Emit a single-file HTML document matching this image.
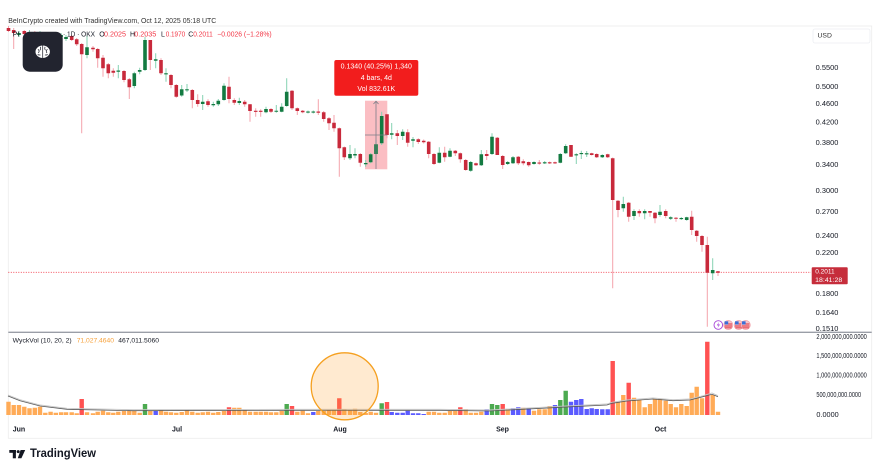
<!DOCTYPE html>
<html><head><meta charset="utf-8"><style>
html,body{margin:0;padding:0;background:#fff;}
svg{display:block;font-family:"Liberation Sans",sans-serif;}
</style></head><body>
<svg width="877" height="473" viewBox="0 0 877 473" xmlns="http://www.w3.org/2000/svg">
<rect width="877" height="473" fill="#fff"/>
<text x="8.3" y="20.6" font-size="7.5" fill="#333" dominant-baseline="central" textLength="208" lengthAdjust="spacingAndGlyphs">BeInCrypto created with TradingView.com, Oct 12, 2025 05:18 UTC</text>
<rect x="8.3" y="26" width="863.4" height="412.3" fill="none" stroke="#ececec" stroke-width="0.8"/>

<line x1="8.3" y1="272.3" x2="811" y2="272.3" stroke="#f23645" stroke-width="0.8" stroke-dasharray="1,1.5"/>

<rect x="365" y="100.7" width="22.3" height="68.6" fill="rgba(242,54,69,0.32)"/>

<path fill="none" stroke="#f4a3ac" stroke-width="1" d="M8.5 26V32M13.7 28V49M24.3 30V36M34.8 31V38M45.3 32V39M55.8 33V39M71.7 35V41M76.7 38V46M81.7 43V133.3M93 46V51.7M97.7 48V67.7M103 55V76.7M108.3 63V78.3M113.3 68.3V76.7M124 70V82.3M129.3 78V99M150.3 40V70M161 58.3V75M171 74V88.3M176.3 84V97.7M192.3 89V108.3M197.7 94.3V106.7M208 99.3V106.7M229 76.7V103.3M234.3 98.3V105M244.7 100V106.7M250 104V121.7M255.7 108.3V116.7M260.7 109.3V116.7M271 108V113M292 90V110M297.3 107.5V115M302.7 110V113.3M318.3 99.3V115M323.7 111V121.7M329 117V130M334 115V131.7M339.3 127.5V176.7M344.3 146.5V160M360.3 153V166.7M387 114.3V138.3M397.3 130V145M407.7 129.3V146.7M418.3 138.3V144M423.7 139.5V143.5M428.7 141V158.3M434 153V165M444.7 146.7V161.7M455.3 150V156M460.3 152.5V162.7M465.7 159V170.7M476 162.5V166M486.7 150V160M497.3 137V155M502.7 155V169M518.3 156V165M523.3 159.3V165.3M528.7 161.5V166.7M539.3 160V164.7M549.7 161.5V164M555 161.5V164M571 145V157M591.7 152.7V155.5M596.7 153.3V158M607.7 153.7V158M612.7 157.5V288.3M618 200V217.3M628.7 202V221.7M639.3 209.3V216.7M650 211V216.7M655 212V223.3M665.7 209.3V218.3M676 217V221.7M691.7 210.7V235M696.7 230V241.7M702 235V251.7M707.3 236.7V326.7M718 271V276"/>
<path fill="none" stroke="#86d2b2" stroke-width="1" d="M19 31V37M29.5 30V37M40 31V37M50.6 32V38M61.1 33V39M66 35V41M87 35.7V58.3M118.3 65V78.3M134.3 71.7V88.3M139.7 67.7V74.3M145 36.7V71M155.7 53.3V68.3M166 68.3V81.7M181.7 85V96.7M187 84V92M202.7 95V110M213.3 101.7V106.7M218.3 99V106M224 83.3V100.7M239.3 97.7V105M266 106.7V113.3M276.3 105V112.7M281.7 103.3V112.3M286.7 78.3V106.7M308 110.5V113.5M313.3 110.5V113.5M350 145V160M355 148.3V158.3M365.7 160V166.7M370.7 153V163.3M376 140V155M381.7 111.7V145M391.7 123V139.3M402.7 129.3V140M413 137V147.3M439.3 147.3V163.3M450 148.3V157.3M470.7 161V171.7M481.3 150V166M492 133.3V155M507.7 161V165M513 156V164M534 161.3V164.7M544.7 161V164M560.3 153V163.3M565.7 144.3V154M576.3 153.3V164M581.3 150.7V159M586.7 151V157M602.3 154.3V158M623.3 196.7V211.7M634 209.3V220M644.7 209.3V219.3M660 205V216.7M670.7 216.3V220M681.3 217V220M686.7 216.7V220.7M712.7 258.3V280"/>
<path fill="#c8293b" d="M6.7 28h3.6V31h-3.6zM11.9 30h3.6V33h-3.6zM22.5 31h3.6V34h-3.6zM33 33h3.6V36h-3.6zM43.5 34h3.6V37h-3.6zM54 35h3.6V37h-3.6zM69.9 36h3.6V40h-3.6zM74.9 39.3h3.6V44.3h-3.6zM79.9 44h3.6V54.3h-3.6zM91.2 47.7h3.6V49.3h-3.6zM95.9 49h3.6V58.3h-3.6zM101.2 57.7h3.6V68.3h-3.6zM106.5 64.3h3.6V73.3h-3.6zM111.5 70.7h3.6V72.7h-3.6zM122.2 71h3.6V80h-3.6zM127.5 79.3h3.6V87.3h-3.6zM148.5 40h3.6V60h-3.6zM159.2 60h3.6V73.3h-3.6zM169.2 75h3.6V85h-3.6zM174.5 85h3.6V96.7h-3.6zM190.5 90h3.6V100h-3.6zM195.9 100h3.6V104h-3.6zM206.2 101.3h3.6V105h-3.6zM227.2 86.7h3.6V99h-3.6zM232.5 100h3.6V102.7h-3.6zM242.9 101.7h3.6V104.3h-3.6zM248.2 104.3h3.6V111h-3.6zM253.9 110.7h3.6V111.9h-3.6zM258.9 110.7h3.6V111.9h-3.6zM269.2 109h3.6V111.7h-3.6zM290.2 90.7h3.6V108.3h-3.6zM295.5 108.3h3.6V111h-3.6zM300.9 110.7h3.6V112.3h-3.6zM316.5 111.5h3.6V112.7h-3.6zM321.9 112.3h3.6V119h-3.6zM327.2 118.3h3.6V123.3h-3.6zM332.2 122.7h3.6V128.3h-3.6zM337.5 128.3h3.6V148.3h-3.6zM342.5 147.3h3.6V157.3h-3.6zM358.5 154h3.6V162.7h-3.6zM385.2 114.3h3.6V135h-3.6zM395.5 133.3h3.6V136h-3.6zM405.9 132.3h3.6V142.7h-3.6zM416.5 139.3h3.6V142h-3.6zM421.9 140.7h3.6V142.3h-3.6zM426.9 141.7h3.6V154h-3.6zM432.2 154h3.6V164h-3.6zM442.9 152.7h3.6V157.3h-3.6zM453.5 150.7h3.6V153.3h-3.6zM458.5 153.3h3.6V159.3h-3.6zM463.9 160h3.6V170h-3.6zM474.2 163.3h3.6V165.3h-3.6zM484.9 154h3.6V156h-3.6zM495.5 137.7h3.6V155h-3.6zM500.9 156h3.6V165h-3.6zM516.5 156.7h3.6V163.3h-3.6zM521.5 161.3h3.6V163.3h-3.6zM526.9 162h3.6V165.3h-3.6zM537.5 162.5h3.6V163.6h-3.6zM547.9 162.3h3.6V163.4h-3.6zM553.2 162.3h3.6V163.4h-3.6zM569.2 145h3.6V156.7h-3.6zM589.9 153.3h3.6V155h-3.6zM594.9 154h3.6V157.3h-3.6zM605.9 154.3h3.6V157.3h-3.6zM610.9 158.3h3.6V200h-3.6zM616.2 200.7h3.6V210h-3.6zM626.9 202.7h3.6V216.7h-3.6zM637.5 211h3.6V213.3h-3.6zM648.2 211h3.6V212.7h-3.6zM653.2 212.7h3.6V218.3h-3.6zM663.9 211h3.6V216h-3.6zM674.2 217.7h3.6V218.8h-3.6zM689.9 216.7h3.6V230h-3.6zM694.9 230.7h3.6V236h-3.6zM700.2 236h3.6V245h-3.6zM705.5 245h3.6V272.7h-3.6zM716.2 271.3h3.6V272.7h-3.6z"/>
<path fill="#137a41" d="M17.2 33h3.6V35h-3.6zM27.7 32h3.6V35h-3.6zM38.2 33h3.6V35h-3.6zM48.8 34h3.6V36h-3.6zM59.3 35h3.6V37h-3.6zM64.2 37h3.6V39h-3.6zM85.2 47.3h3.6V55h-3.6zM116.5 70.5h3.6V71.7h-3.6zM132.5 73.3h3.6V86h-3.6zM137.9 70h3.6V71.7h-3.6zM143.2 40h3.6V70h-3.6zM153.9 59.3h3.6V60.7h-3.6zM164.2 73.3h3.6V74.4h-3.6zM179.9 89.3h3.6V95.5h-3.6zM185.2 89.3h3.6V90.4h-3.6zM200.9 101.7h3.6V104h-3.6zM211.5 104h3.6V105.3h-3.6zM216.5 100.7h3.6V104.3h-3.6zM222.2 85.7h3.6V100h-3.6zM237.5 101h3.6V103h-3.6zM264.2 109h3.6V112.3h-3.6zM274.5 110.7h3.6V111.8h-3.6zM279.9 106.7h3.6V111.7h-3.6zM284.9 91.7h3.6V106h-3.6zM306.2 111.5h3.6V112.6h-3.6zM311.5 111.5h3.6V112.6h-3.6zM348.2 154h3.6V158.3h-3.6zM353.2 154h3.6V155.5h-3.6zM363.9 163h3.6V164.3h-3.6zM368.9 154.3h3.6V162.3h-3.6zM374.2 144.3h3.6V154h-3.6zM379.9 116h3.6V143.3h-3.6zM389.9 133.3h3.6V134.7h-3.6zM400.9 131.7h3.6V136h-3.6zM411.2 139.3h3.6V140.7h-3.6zM437.5 152.7h3.6V162.7h-3.6zM448.2 150.7h3.6V156.7h-3.6zM468.9 162h3.6V170.7h-3.6zM479.5 154.3h3.6V165.3h-3.6zM490.2 136.7h3.6V154h-3.6zM505.9 162h3.6V164h-3.6zM511.2 157.3h3.6V163.3h-3.6zM532.2 162h3.6V164h-3.6zM542.9 162.3h3.6V163.4h-3.6zM558.5 154h3.6V162.7h-3.6zM563.9 146h3.6V153.3h-3.6zM574.5 154.3h3.6V155.4h-3.6zM579.5 153h3.6V154.1h-3.6zM584.9 153.3h3.6V154.4h-3.6zM600.5 155h3.6V157.3h-3.6zM621.5 204h3.6V208.3h-3.6zM632.2 211h3.6V216h-3.6zM642.9 211h3.6V213.3h-3.6zM658.2 211.7h3.6V215h-3.6zM668.9 217.3h3.6V218.7h-3.6zM679.5 218h3.6V219.1h-3.6zM684.9 217.3h3.6V220h-3.6zM710.9 270h3.6V273.3h-3.6z"/>

<line x1="376" y1="101" x2="376" y2="169" stroke="#7b7e88" stroke-width="0.8"/>
<line x1="365" y1="135" x2="387.3" y2="135" stroke="#7b7e88" stroke-width="0.8"/>
<path d="M373.5 104L376 101.2L378.5 104" fill="none" stroke="#7b7e88" stroke-width="0.8"/>

<rect x="334.3" y="60" width="84" height="35.7" rx="2" fill="#f21d1d"/>
<g fill="#fff" font-size="7" text-anchor="middle" dominant-baseline="central">
<text x="376.3" y="66.8">0.1340 (40.25%) 1,340</text>
<text x="376.3" y="78.3">4 bars, 4d</text>
<text x="376.3" y="89.5">Vol 832.61K</text>
</g>

<rect x="22.7" y="31.7" width="40" height="40" rx="7" fill="#22242f"/>
<g transform="translate(42.7,51.7)">
<ellipse cx="0" cy="0" rx="7.2" ry="6.2" fill="#fff"/>
<path d="M0 -6.2V6.2M-4.8 -2.4Q-2.6 -1 -4.3 1.3M-2.2 3.3Q-3.8 3.5 -5 2.8M4.8 -2.4Q2.6 -1 4.3 1.3M2.2 3.3Q3.8 3.5 5 2.8M-2.4 -4.9Q-1.5 -2.8 -2.8 -1.5M2.4 -4.9Q1.5 -2.8 2.8 -1.5" fill="none" stroke="#22242f" stroke-width="0.75"/>
</g>

<g font-size="7" dominant-baseline="central">
<text x="12.7" y="35.2" fill="#131722">PI</text>
<text x="63" y="35.2" fill="#131722" textLength="32" lengthAdjust="spacingAndGlyphs">· 1D · OKX</text>
<text x="99.3" y="35.2" fill="#131722">O</text>
<text x="104" y="35.2" fill="#f23645" textLength="22" lengthAdjust="spacingAndGlyphs">0.2025</text>
<text x="130" y="35.2" fill="#131722">H</text>
<text x="134.3" y="35.2" fill="#f23645" textLength="22" lengthAdjust="spacingAndGlyphs">0.2035</text>
<text x="161" y="35.2" fill="#131722">L</text>
<text x="165.7" y="35.2" fill="#f23645" textLength="19.5" lengthAdjust="spacingAndGlyphs">0.1970</text>
<text x="188.3" y="35.2" fill="#131722">C</text>
<text x="193.3" y="35.2" fill="#f23645" textLength="19.5" lengthAdjust="spacingAndGlyphs">0.2011</text>
<text x="217.3" y="35.2" fill="#f23645" textLength="54.4" lengthAdjust="spacingAndGlyphs">−0.0026 (−1.28%)</text>
</g>

<rect x="813" y="29" width="57" height="14" rx="2" fill="#fff" stroke="#eceef2" stroke-width="0.8"/>
<text x="817.5" y="36" font-size="6.8" fill="#333" dominant-baseline="central">USD</text>

<g font-size="7" fill="#131722" dominant-baseline="central">
<text x="815.7" y="68.3" textLength="22.7" lengthAdjust="spacingAndGlyphs">0.5500</text>
<text x="815.7" y="87.7" textLength="22.7" lengthAdjust="spacingAndGlyphs">0.5000</text>
<text x="815.7" y="104.3" textLength="22.7" lengthAdjust="spacingAndGlyphs">0.4600</text>
<text x="815.7" y="123" textLength="22.7" lengthAdjust="spacingAndGlyphs">0.4200</text>
<text x="815.7" y="143.3" textLength="22.7" lengthAdjust="spacingAndGlyphs">0.3800</text>
<text x="815.7" y="165.7" textLength="22.7" lengthAdjust="spacingAndGlyphs">0.3400</text>
<text x="815.7" y="191.7" textLength="22.7" lengthAdjust="spacingAndGlyphs">0.3000</text>
<text x="815.7" y="212.7" textLength="22.7" lengthAdjust="spacingAndGlyphs">0.2700</text>
<text x="815.7" y="236.3" textLength="22.7" lengthAdjust="spacingAndGlyphs">0.2400</text>
<text x="815.7" y="253.7" textLength="22.7" lengthAdjust="spacingAndGlyphs">0.2200</text>
<text x="815.7" y="294.7" textLength="22.7" lengthAdjust="spacingAndGlyphs">0.1800</text>
<text x="815.7" y="313.7" textLength="22.7" lengthAdjust="spacingAndGlyphs">0.1640</text>
<text x="815.7" y="329.5" textLength="22.7" lengthAdjust="spacingAndGlyphs">0.1510</text>
</g>
<rect x="811.7" y="267.3" width="36" height="17" rx="1" fill="#c62d3b"/>
<g font-size="6.8" fill="#fff" dominant-baseline="central">
<text x="815.2" y="272" textLength="19.5" lengthAdjust="spacingAndGlyphs">0.2011</text>
<text x="815.2" y="280.6" textLength="27" lengthAdjust="spacingAndGlyphs">18:41:28</text>
</g>

<circle cx="718.3" cy="325" r="4.3" fill="#fff" stroke="#a642d6" stroke-width="0.9"/>
<path d="M719 322L716.8 325.4H718.6L717.6 328L720 324.5H718.2Z" fill="#a642d6"/>
<g>
<circle cx="728.3" cy="325" r="4.6" fill="#f7c6cb" stroke="#f29aa3" stroke-width="0.6"/>
<rect x="724.6" y="323.5" width="7.4" height="1" fill="#e0303e"/><rect x="724.6" y="325.5" width="7.4" height="1" fill="#e0303e"/><rect x="725" y="327.4" width="6.6" height="0.9" fill="#e0303e"/>
<rect x="724.6" y="321.3" width="3.6" height="3.2" fill="#3a6fd8"/>
<circle cx="738.7" cy="325" r="4.6" fill="#f7c6cb" stroke="#f29aa3" stroke-width="0.6"/>
<rect x="735" y="323.5" width="7.4" height="1" fill="#e0303e"/><rect x="735" y="325.5" width="7.4" height="1" fill="#e0303e"/><rect x="735.4" y="327.4" width="6.6" height="0.9" fill="#e0303e"/>
<rect x="735" y="321.3" width="3.6" height="3.2" fill="#3a6fd8"/>
<circle cx="745.7" cy="325" r="4.6" fill="#f7c6cb" stroke="#f29aa3" stroke-width="0.6"/>
<rect x="742" y="323.5" width="7.4" height="1" fill="#e0303e"/><rect x="742" y="325.5" width="7.4" height="1" fill="#e0303e"/><rect x="742.4" y="327.4" width="6.6" height="0.9" fill="#e0303e"/>
<rect x="742" y="321.3" width="3.6" height="3.2" fill="#3a6fd8"/>
</g>

<line x1="8.3" y1="332.3" x2="871.7" y2="332.3" stroke="#9a9ea7" stroke-width="1.4"/>

<path fill="#ffab57" d="M6.3 415V401.7h4.4V415zM11.5 415V405h4.4V415zM16.8 415V405h4.4V415zM22.1 415V406.7h4.4V415zM27.3 415V408.3h4.4V415zM32.6 415V407.7h4.4V415zM37.8 415V406.7h4.4V415zM43.1 415V412.7h4.4V415zM48.4 415V411.7h4.4V415zM53.6 415V412.7h4.4V415zM58.9 415V412.3h4.4V415zM63.8 415V412.3h4.4V415zM69.5 415V412.3h4.4V415zM74.5 415V413.3h4.4V415zM84.8 415V412.3h4.4V415zM90.8 415V413.3h4.4V415zM95.5 415V411.7h4.4V415zM100.8 415V410.7h4.4V415zM106.1 415V412.3h4.4V415zM111.1 415V412.7h4.4V415zM116.1 415V411.7h4.4V415zM121.8 415V411h4.4V415zM127.1 415V410.7h4.4V415zM132.1 415V411h4.4V415zM137.5 415V412.7h4.4V415zM148.1 415V410.7h4.4V415zM158.8 415V410h4.4V415zM163.8 415V411.7h4.4V415zM168.8 415V412.3h4.4V415zM174.1 415V412.7h4.4V415zM179.5 415V412h4.4V415zM184.8 415V410h4.4V415zM190.1 415V411.7h4.4V415zM195.5 415V412.7h4.4V415zM200.5 415V412.3h4.4V415zM205.8 415V411.7h4.4V415zM211.1 415V412.7h4.4V415zM216.1 415V412h4.4V415zM221.8 415V411h4.4V415zM232.1 415V407.7h4.4V415zM237.1 415V407.7h4.4V415zM242.5 415V410h4.4V415zM247.8 415V411.7h4.4V415zM253.5 415V411.7h4.4V415zM258.5 415V411.7h4.4V415zM263.8 415V411.7h4.4V415zM268.8 415V412.3h4.4V415zM274.1 415V412.3h4.4V415zM279.5 415V411h4.4V415zM295.1 415V411.7h4.4V415zM300.5 415V410.7h4.4V415zM305.8 415V413.3h4.4V415zM316.1 415V411h4.4V415zM321.5 415V411h4.4V415zM326.8 415V410h4.4V415zM331.8 415V410h4.4V415zM342.1 415V409.3h4.4V415zM347.8 415V410h4.4V415zM352.8 415V408.7h4.4V415zM358.1 415V412h4.4V415zM363.5 415V413h4.4V415zM368.5 415V411.7h4.4V415zM373.8 415V412.7h4.4V415zM426.5 415V411.7h4.4V415zM431.8 415V411.7h4.4V415zM437.1 415V412.7h4.4V415zM442.5 415V412.7h4.4V415zM447.8 415V411h4.4V415zM453.1 415V411h4.4V415zM463.5 415V409h4.4V415zM468.5 415V412.7h4.4V415zM473.8 415V412.7h4.4V415zM479.1 415V411.7h4.4V415zM505.5 415V409.3h4.4V415zM521.1 415V407.7h4.4V415zM531.8 415V410.7h4.4V415zM537.1 415V409.3h4.4V415zM542.5 415V409.3h4.4V415zM547.5 415V406h4.4V415zM615.8 415V402.3h4.4V415zM621.1 415V395h4.4V415zM631.8 415V397.7h4.4V415zM637.1 415V400h4.4V415zM642.5 415V407.3h4.4V415zM647.8 415V404h4.4V415zM652.8 415V399h4.4V415zM657.8 415V399h4.4V415zM663.5 415V400.7h4.4V415zM668.5 415V404h4.4V415zM673.8 415V407.3h4.4V415zM679.1 415V404h4.4V415zM684.5 415V406h4.4V415zM689.5 415V392.7h4.4V415zM694.5 415V386.7h4.4V415zM699.8 415V398.3h4.4V415zM710.5 415V395h4.4V415zM715.8 415V411.7h4.4V415z"/>
<path fill="#ff5252" d="M79.5 415V399h4.4V415zM226.8 415V407.3h4.4V415zM289.8 415V406h4.4V415zM337.1 415V398.3h4.4V415zM384.8 415V402h4.4V415zM458.1 415V407.3h4.4V415zM500.5 415V404h4.4V415zM610.5 415V361h4.4V415zM626.5 415V382.7h4.4V415zM705.1 415V341.7h4.4V415z"/>
<path fill="#4caa50" d="M142.8 415V404h4.4V415zM284.5 415V404h4.4V415zM379.5 415V403.3h4.4V415zM489.8 415V404h4.4V415zM495.1 415V405h4.4V415zM558.1 415V400h4.4V415zM563.5 415V390.7h4.4V415z"/>
<path fill="#5b5bff" d="M153.5 415V411h4.4V415zM311.1 415V412h4.4V415zM389.5 415V412h4.4V415zM395.1 415V412.7h4.4V415zM400.5 415V412.7h4.4V415zM405.5 415V410.7h4.4V415zM410.8 415V413.3h4.4V415zM416.1 415V413.3h4.4V415zM421.5 415V414h4.4V415zM484.5 415V409.3h4.4V415zM510.8 415V408.3h4.4V415zM516.1 415V407.3h4.4V415zM526.5 415V408.3h4.4V415zM552.8 415V405h4.4V415zM568.8 415V401.7h4.4V415zM574.1 415V400h4.4V415zM579.1 415V399h4.4V415zM584.5 415V409h4.4V415zM589.5 415V408.3h4.4V415zM594.5 415V409h4.4V415zM600.1 415V409.3h4.4V415zM605.5 415V409.3h4.4V415z"/>
<path fill="none" stroke="#c8c8c8" stroke-width="0.9" d="M8 395L20 399.7L40 405L67 408.3L133 409.7L300 409.3L440 409.3L490 410L560 406.3L607 404L612 402.3L627 400L653 398L673 399.7L690 399L703 395.7L712 393L718 395.7"/>
<path fill="none" stroke="#5a5a5a" stroke-width="0.8" d="M8 396L20 400.7L40 406L67 409.3L133 410.7L300 410.3L440 410.3L490 411L560 407.3L607 405L612 403.3L627 401L653 399L673 400.7L690 400L703 396.7L712 394.3L718 396.7"/>

<circle cx="344.7" cy="386.3" r="33.5" fill="rgba(255,160,40,0.22)" stroke="#f5a020" stroke-width="1.3"/>

<g font-size="6.8" dominant-baseline="central">
<text x="12.7" y="341" fill="#131722" textLength="59" lengthAdjust="spacingAndGlyphs">WyckVol (10, 20, 2)</text>
<text x="76.7" y="341" fill="#f7a13a" textLength="37.3" lengthAdjust="spacingAndGlyphs">71,027.4640</text>
<text x="118.3" y="341" fill="#131722" textLength="40.7" lengthAdjust="spacingAndGlyphs">467,011.5060</text>
</g>
<g font-size="7.3" fill="#131722" dominant-baseline="central">
<text x="816.4" y="336.3" textLength="50.4" lengthAdjust="spacingAndGlyphs">2,000,000,000.0000</text>
<text x="816.4" y="355.3" textLength="50.4" lengthAdjust="spacingAndGlyphs">1,500,000,000.0000</text>
<text x="816.4" y="375" textLength="50.4" lengthAdjust="spacingAndGlyphs">1,000,000,000.0000</text>
<text x="816.4" y="394.7" textLength="44.7" lengthAdjust="spacingAndGlyphs">500,000,000.0000</text>
<text x="816.4" y="414.7" textLength="22.3" lengthAdjust="spacingAndGlyphs">0.0000</text>
</g>
<g font-size="7" font-weight="bold" fill="#131722" text-anchor="middle" dominant-baseline="central">
<text x="19" y="430.2">Jun</text>
<text x="177" y="430.2">Jul</text>
<text x="340" y="430.2">Aug</text>
<text x="502.5" y="430.2">Sep</text>
<text x="660.5" y="430.2">Oct</text>
</g>

<g fill="#131722">
<rect x="9.3" y="450" width="6.6" height="2.8"/>
<rect x="12.8" y="450" width="3.1" height="8.3"/>
<circle cx="18.2" cy="451.6" r="1.5"/>
<path d="M20.6 450H25.2L21.4 458.3H17.8Z"/>
</g>
<text x="30" y="454.2" font-size="11.5" font-weight="bold" fill="#131722" dominant-baseline="central" textLength="66" lengthAdjust="spacingAndGlyphs">TradingView</text>
</svg>
</body></html>
